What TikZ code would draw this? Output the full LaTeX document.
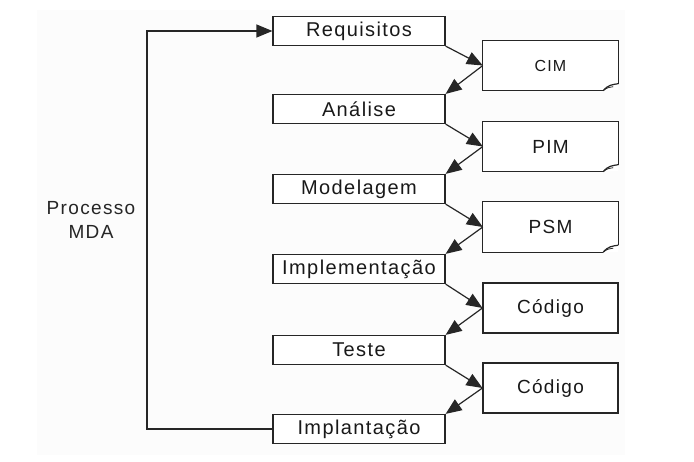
\documentclass[tikz,border=0pt]{standalone}
\usepackage{fontspec}
\setmainfont{Liberation Sans}[LetterSpace=7]
\usetikzlibrary{arrows.meta,calc}
\begin{document}
\begin{tikzpicture}[x=1pt,y=-1pt,
  lbox/.style={draw=black!85,line width=1.2pt,fill=white,minimum width=172pt,minimum height=29pt,inner sep=0pt,font=\fontsize{20}{22}\selectfont,text=black!90},
  rbox/.style={draw=none,fill=white,minimum width=135pt,minimum height=50pt,inner sep=0pt,font=\fontsize{19}{21}\selectfont,text=black!90},
  cbox/.style={rbox,draw=black!85,line width=1.1pt},
  rline/.style={draw=black!85,line width=1.2pt},
  conn/.style={-{Triangle[length=16pt,width=13pt]},line width=1.2pt,black!85},
  lbl/.style={align=center,font=\fontsize{19}{24}\selectfont,text=black!85}]
\useasboundingbox (0,0) rectangle (694,462);
\fill[black!1] (37,10) rectangle (625,455);
\newcommand\foldoutline[1]{%
  \draw[rline] ($(#1.south east)+(-15,0)$) -- (#1.south west) -- (#1.north west) -- (#1.north east) -- ($(#1.south east)+(0,-7)$);
  \draw[rline] ($(#1.south east)+(-15,0)$) .. controls ($(#1.south east)+(-10,-6)$) and ($(#1.south east)+(-6,-6)$) .. ($(#1.south east)+(0,-7)$);
  \draw[rline,line width=0.8pt] ($(#1.south east)+(-15,0)$) .. controls ($(#1.south east)+(-11,-3)$) .. ($(#1.south east)+(-5,-4)$);
}
% left boxes
\node[lbox] (req) at (359,31) {Requisitos};
\node[lbox] (ana) at (359,109) {Análise};
\node[lbox] (mod) at (359,189) {Modelagem};
\node[lbox] (imp) at (359,269) {Implementação};
\node[lbox] (tes) at (359,350) {Teste};
\node[lbox] (ipl) at (359,429) {Implantação};
% right boxes
\node[rbox,font=\fontsize{16}{18}\selectfont] (cim) at (550.5,65.5) {CIM};
\foldoutline{cim}
\node[rbox] (pim) at (550.5,146.5) {PIM};
\foldoutline{pim}
\node[rbox] (psm) at (550.5,227) {PSM};
\foldoutline{psm}
\node[cbox] (cod1) at (550.5,308) {Código};
\node[cbox] (cod2) at (550.5,388) {Código};
% label
\node[lbl] (mda) at (91,220) {Processo\\MDA};
% connectors
\draw[conn] (req.south east) -- (cim.west);
\draw[conn] (cim.west) -- (ana.north east);
\draw[conn] (ana.south east) -- (pim.west);
\draw[conn] (pim.west) -- (mod.north east);
\draw[conn] (mod.south east) -- (psm.west);
\draw[conn] (psm.west) -- (imp.north east);
\draw[conn] (imp.south east) -- (cod1.west);
\draw[conn] (cod1.west) -- (tes.north east);
\draw[conn] (tes.south east) -- (cod2.west);
\draw[conn] (cod2.west) -- (ipl.north east);
\coordinate (fb) at (147,429);
\draw[conn] (ipl.west) -- (fb) |- (req.west);
\end{tikzpicture}
\end{document}
